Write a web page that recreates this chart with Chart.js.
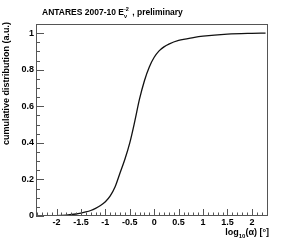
<!DOCTYPE html>
<html>
<head>
<meta charset="utf-8">
<script src="https://cdn.jsdelivr.net/npm/chart.js@4.4.1/dist/chart.umd.min.js"></script>
<style>
  html, body { margin: 0; padding: 0; background: #fff; }
  #wrap { width: 305px; height: 243px; }
</style>
</head>
<body>
<div id="wrap"><canvas id="c" width="305" height="243"></canvas></div>
<script>
// log10(alpha) and cumulative fraction
const logAlpha = [-2.42, -2.2, -2.0, -1.8, -1.6, -1.5, -1.4, -1.3, -1.2, -1.1, -1.0, -0.9, -0.8, -0.7, -0.6, -0.5, -0.4, -0.3, -0.2, -0.1, 0.0, 0.1, 0.2, 0.3, 0.5, 0.8, 1.0, 1.5, 2.0, 2.28];
const cumDist = [0.0, 0.001, 0.002, 0.005, 0.011, 0.016, 0.022, 0.030, 0.042, 0.057, 0.078, 0.11, 0.16, 0.235, 0.31, 0.40, 0.515, 0.64, 0.74, 0.815, 0.868, 0.903, 0.925, 0.94, 0.96, 0.976, 0.984, 0.995, 0.999, 1.0];

const xTicks = [-2, -1.5, -1, -0.5, 0, 0.5, 1, 1.5, 2];
const yTicks = [0, 0.2, 0.4, 0.6, 0.8, 1];
const xRange = [-2.42, 2.33];
const yRange = [0, 1.05];

const FONT = "'Liberation Sans', Arial, Helvetica, sans-serif";

// ROOT-like frame with inward ticks + titles
const rootFrame = {
    id: "rootFrame",
    afterDraw(chart) {
        const ctx = chart.ctx;
        const a = chart.chartArea;
        const xs = chart.scales.x;
        const ys = chart.scales.y;
        ctx.save();
        ctx.strokeStyle = "#555";
        ctx.lineWidth = 1;
        ctx.strokeRect(Math.round(a.left) + 0.5, Math.round(a.top) + 0.5,
            Math.round(a.right - a.left) - 1, Math.round(a.bottom - a.top) - 1);

        ctx.beginPath();
        // y ticks every 0.05, major every 0.2
        for (let i = 0; i <= 21; i++) {
            const v = i * 0.05;
            const py = Math.round(ys.getPixelForValue(v)) + 0.5;
            const len = i % 4 === 0 ? 8 : 4;
            ctx.moveTo(a.left, py);
            ctx.lineTo(a.left + len, py);
        }
        // x ticks every 0.1, major every 0.5
        for (let i = -24; i <= 23; i++) {
            const v = i / 10;
            const px = Math.round(xs.getPixelForValue(v)) + 0.5;
            const len = i % 5 === 0 ? 7 : 3.5;
            ctx.moveTo(px, a.bottom);
            ctx.lineTo(px, a.bottom - len);
        }
        ctx.stroke();

        ctx.fillStyle = "#000";
        ctx.textBaseline = "middle";

        // title
        let x = 42;
        const ty = 13;
        ctx.textAlign = "left";
        ctx.font = "bold 8.5px " + FONT;
        let s = "ANTARES 2007-10 E";
        ctx.fillText(s, x, ty);
        x += ctx.measureText(s).width;
        ctx.font = "bold 5.5px " + FONT;
        ctx.fillText("\u03bd", x, ty + 3);
        ctx.fillText("-2", x, ty - 4);
        x += ctx.measureText("-2").width + 1;
        ctx.font = "bold 8.5px " + FONT;
        ctx.fillText(" , preliminary", x, ty);

        // x title, right aligned to frame
        const parts = [["log", 9, 0], ["10", 6, 3], ["(\u03b1) [\u00b0]", 9, 0]];
        let w = 0;
        parts.forEach(p => { ctx.font = "bold " + p[1] + "px " + FONT; w += ctx.measureText(p[0]).width; });
        x = a.right + 1 - w;
        parts.forEach(p => {
            ctx.font = "bold " + p[1] + "px " + FONT;
            ctx.fillText(p[0], x, 233 + p[2]);
            x += ctx.measureText(p[0]).width;
        });

        // y title, aligned to top
        ctx.save();
        ctx.translate(7, 22);
        ctx.rotate(-Math.PI / 2);
        ctx.textAlign = "right";
        ctx.font = "bold 9px " + FONT;
        ctx.fillText("cumulative distribution (a.u.)", 0, 0);
        ctx.restore();

        ctx.restore();
    },
};

new Chart(document.getElementById("c").getContext("2d"), {
    type: "line",
    data: {
        datasets: [
            {
                data: logAlpha.map((v, i) => ({ x: v, y: cumDist[i] })),
                borderColor: "#111",
                borderWidth: 1.3,
                pointRadius: 0,
                cubicInterpolationMode: "monotone",
                fill: false,
            },
        ],
    },
    options: {
        responsive: false,
        animation: false,
        layout: { padding: { left: 0, top: 24, right: 37, bottom: 0 } },
        plugins: {
            legend: { display: false },
            tooltip: { enabled: false },
        },
        scales: {
            x: {
                type: "linear",
                min: xRange[0],
                max: xRange[1],
                grid: { display: false, drawTicks: false },
                border: { display: false },
                afterBuildTicks: s => { s.ticks = xTicks.map(v => ({ value: v })); },
                afterFit: s => { s.height = 27; },
                ticks: {
                    padding: 1,
                    color: "#000",
                    maxRotation: 0,
                    autoSkip: false,
                    font: { family: FONT, size: 9, weight: "bold" },
                    callback: v => String(v),
                },
            },
            y: {
                type: "linear",
                min: yRange[0],
                max: yRange[1],
                grid: { display: false, drawTicks: false },
                border: { display: false },
                afterBuildTicks: s => { s.ticks = yTicks.map(v => ({ value: v })); },
                afterFit: s => { s.width = 36; },
                ticks: {
                    padding: 2,
                    color: "#000",
                    autoSkip: false,
                    font: { family: FONT, size: 9, weight: "bold" },
                    callback: v => String(v),
                },
            },
        },
    },
    plugins: [rootFrame],
});
</script>
</body>
</html>
